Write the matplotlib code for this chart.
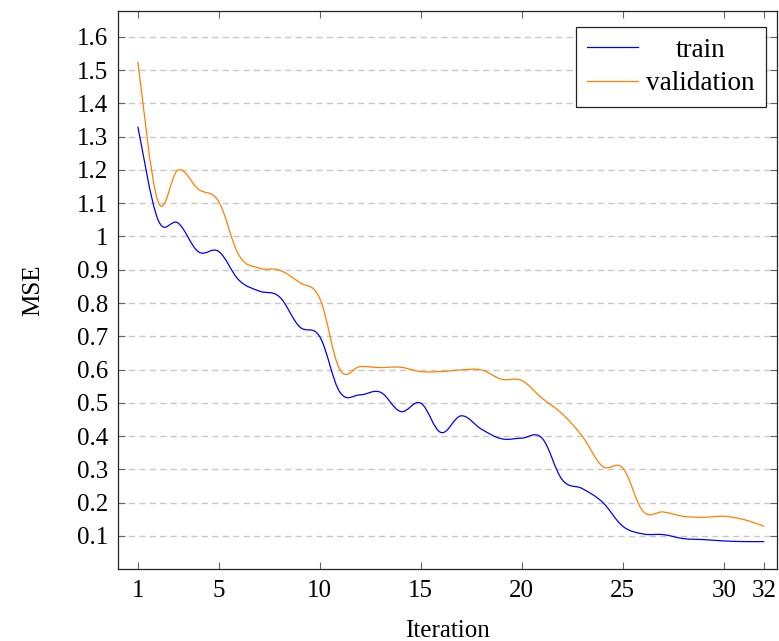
import numpy as np
import matplotlib.pyplot as plt
from matplotlib.path import Path
from matplotlib.patches import PathPatch
from matplotlib.lines import Line2D

plt.rcParams['font.family'] = ['Liberation Serif', 'DejaVu Serif']
plt.rcParams['font.size'] = 18

iterations = list(range(1, 33))
train = [1.33, 1.05, 1.04, 0.954, 0.955, 0.869, 0.836, 0.819, 0.729, 0.699,
         0.532, 0.524, 0.532, 0.474, 0.499, 0.411, 0.461, 0.421, 0.392, 0.394,
         0.394, 0.269, 0.242, 0.201, 0.129, 0.106, 0.104, 0.092, 0.089, 0.085,
         0.083, 0.083]
validation = [1.525, 1.105, 1.2, 1.142, 1.105, 0.944, 0.905, 0.899, 0.862, 0.814,
              0.6, 0.609, 0.606, 0.607, 0.594, 0.594, 0.599, 0.599, 0.571, 0.567,
              0.514, 0.467, 0.399, 0.309, 0.304, 0.174, 0.172, 0.159, 0.156, 0.159,
              0.149, 0.129]
x_ticks = [1, 5, 10, 15, 20, 25, 30, 32]
y_ticks = [0.1, 0.2, 0.3, 0.4, 0.5, 0.6, 0.7, 0.8, 0.9, 1.0,
           1.1, 1.2, 1.3, 1.4, 1.5, 1.6]
y_labels = ['0.1', '0.2', '0.3', '0.4', '0.5', '0.6', '0.7', '0.8', '0.9', '1',
            '1.1', '1.2', '1.3', '1.4', '1.5', '1.6']


def smooth_path(x, y, s=0.55 / 3):
    # tikz-like "smooth" plot: cubic bezier through every point
    p = np.column_stack([x, y]).astype(float)
    n = len(p)
    verts = [p[0]]
    codes = [Path.MOVETO]
    for i in range(n - 1):
        prev = p[i - 1] if i > 0 else p[i]
        nxt = p[i + 2] if i + 2 < n else p[i + 1]
        c1 = p[i] + (p[i + 1] - prev) * s
        c2 = p[i + 1] - (nxt - p[i]) * s
        verts += [c1, c2, p[i + 1]]
        codes += [Path.CURVE4] * 3
    return Path(verts, codes)


fig = plt.figure(figsize=(7.79, 6.41), dpi=100)
ax = fig.add_axes([0.151, 0.112, 0.847, 0.871])

blue = (0, 0, 1)
orange = (1, 0.5, 0)
for ys, c in [(train, blue), (validation, orange)]:
    ax.add_patch(PathPatch(smooth_path(iterations, ys), fill=False,
                           edgecolor=c, lw=0.9))

ax.set_xlim(0.0, 32.65)
ax.set_ylim(0.0, 1.678)
ax.set_xticks(x_ticks)
ax.set_yticks(y_ticks)
ax.set_yticklabels(y_labels)
ax.tick_params(direction='in', top=True, right=True, length=5,
               width=0.8, color='#666666', labelsize=18, pad=6.5)
ax.tick_params(axis='x', pad=8)
ax.yaxis.grid(True, color='#c8c8c8', linestyle=(0, (4.5, 3)), lw=1)
ax.set_axisbelow(True)
for sp in ax.spines.values():
    sp.set_linewidth(0.9)
    sp.set_color('#222222')

ax.set_xlabel('Iteration', fontsize=18, labelpad=13)
ax.set_ylabel('MSE', fontsize=18, labelpad=24)

handles = [Line2D([], [], color=blue, lw=0.9),
           Line2D([], [], color=orange, lw=0.9)]
leg = ax.legend(handles, ['train', 'validation'], loc='upper right',
                bbox_to_anchor=(0.982, 0.971), borderaxespad=0,
                fontsize=19.5, frameon=True, fancybox=False, edgecolor='#222222',
                framealpha=1, handlelength=1.9, borderpad=0.4,
                handletextpad=0.3, labelspacing=0.3)
leg.get_frame().set_linewidth(0.9)

# center the shorter entry like pgfplots does
fig.canvas.draw()
r = fig.canvas.get_renderer()
w = [t.get_window_extent(r).width for t in leg.get_texts()]
leg.get_texts()[0].set_x((max(w) - w[0]) / 2)

fig.savefig('out.png', dpi=100)
